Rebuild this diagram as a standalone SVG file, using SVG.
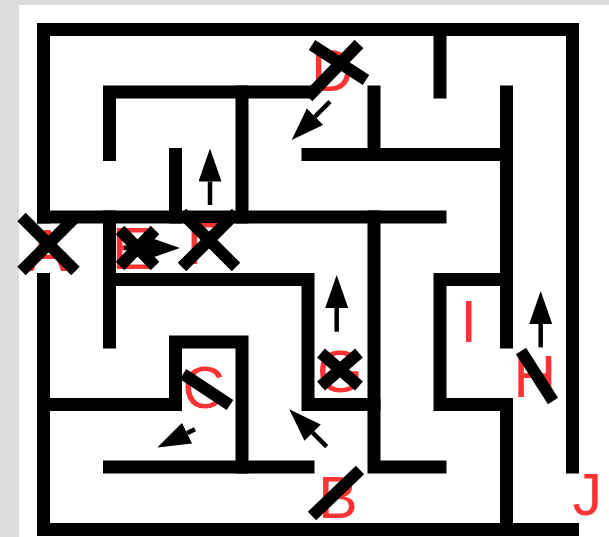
<svg xmlns="http://www.w3.org/2000/svg" width="609" height="537" viewBox="0 0 609 537">
  <defs>
    <style>
      .wall { fill: none; stroke: #000; stroke-width: 13; stroke-linecap: square; stroke-linejoin: miter; }
      .mark { fill: none; stroke: #000; stroke-width: 12; stroke-linecap: butt; }
      .arrow { fill: none; stroke: #000; stroke-width: 4.5; marker-end: url(#head); }
      .lbl { font-family: "Liberation Sans", Arial, sans-serif; font-size: 59px; fill: #ff3333; }
    </style>
    <marker id="head" markerUnits="userSpaceOnUse" markerWidth="34" markerHeight="24" refX="0" refY="11.5" orient="auto" viewBox="0 0 34 24">
      <path d="M0,0 L33,11.5 L0,23 z" fill="#000"/>
    </marker>
  </defs>

  <rect x="0" y="0" width="609" height="537" fill="#dddddd"/>
  <rect x="19" y="5" width="590" height="532" fill="#ffffff"/>

  <g id="walls" class="wall">
    <path d="M43.5,217 V29.5 H572.5 V467"/>
    <path d="M43.5,279.5 V529.5 H572.5"/>
    <path d="M109.5,154.5 V92 H308"/>
    <path d="M175.5,154.5 V217"/>
    <path d="M242,92 V217"/>
    <path d="M43.5,217 H440"/>
    <path d="M374,92 V154.5"/>
    <path d="M308,154.5 H506.5"/>
    <path d="M440,29.5 V92"/>
    <path d="M506.5,92 V342"/>
    <path d="M109.5,217 V342"/>
    <path d="M109.5,279.5 H308 V404.5 H374"/>
    <path d="M374,217 V467 H440"/>
    <path d="M506.5,279.5 H440 V404.5 H506.5 V529.5"/>
    <path d="M43.5,404.5 H175.5 V342 H242 V467"/>
    <path d="M109.5,467 H308"/>
  </g>

  <g id="labels" class="lbl">
    <text x="27.5" y="271">A</text>
    <text x="318.3" y="518">B</text>
    <text x="182.4" y="407.5">C</text>
    <text x="311" y="91">D</text>
    <text x="112" y="268.5">E</text>
    <text x="186.7" y="263.5">F</text>
    <text x="317" y="392">G</text>
    <text x="513.5" y="397">H</text>
    <text x="460.6" y="342">I</text>
    <text x="572.5" y="515">J</text>
  </g>

  <g id="marks" class="mark">
    <path d="M21.5,217 L75.5,271 M75.5,217 L21.5,271"/>
    <path d="M120,230 L155,266 M155,230 L120,266"/>
    <path d="M182,213 L236,267 M236,213 L182,267"/>
    <path d="M312,45 L366,80 M359,44 L308,97"/>
    <path d="M321,353 L359,386 M359,353 L321,386"/>
    <path d="M183,374 L230,405"/>
    <path d="M360,470 L312,516"/>
    <path d="M521,351 L553,401"/>
  </g>

  <g id="connectors" class="arrow">
    <line x1="210" y1="205" x2="210" y2="181.5"/>
    <line x1="330" y1="101.7" x2="315" y2="116.7"/>
    <line x1="336.7" y1="331.7" x2="336.7" y2="308"/>
    <line x1="326.7" y1="446.7" x2="312.6" y2="432.6"/>
    <line x1="195" y1="429.3" x2="187.1" y2="433.1"/>
    <line x1="540.7" y1="347.3" x2="540.7" y2="324"/>
    <line x1="124" y1="248" x2="147" y2="248"/>
  </g>
</svg>
